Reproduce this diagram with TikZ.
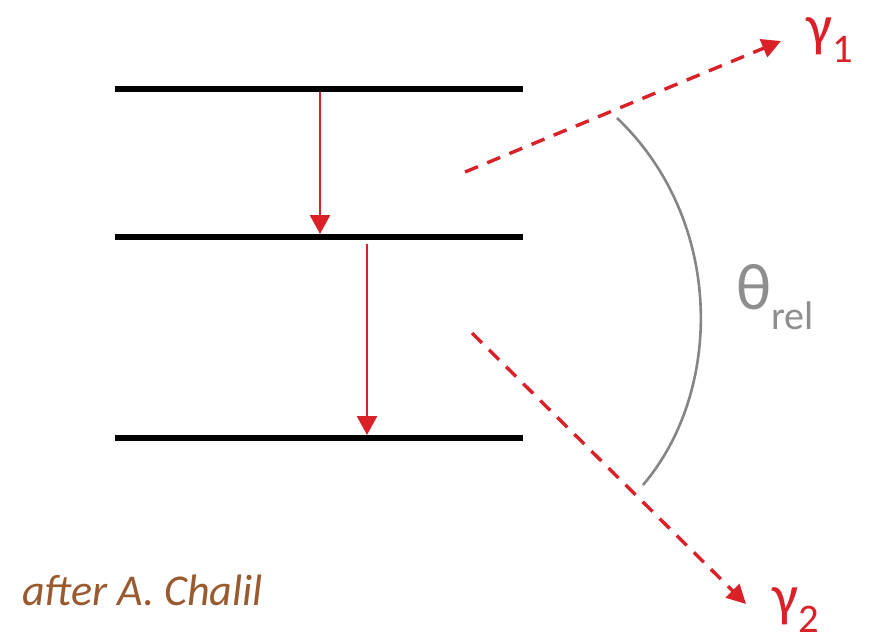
\documentclass[tikz,border=0pt]{standalone}
\usepackage{fontspec}
\setmainfont{Carlito}
\usetikzlibrary{arrows.meta}
\definecolor{gred}{HTML}{DA2128}
\definecolor{arcgray}{HTML}{858585}
\definecolor{labgray}{HTML}{8E8E8E}
\definecolor{credit}{HTML}{9A5A30}
\tikzset{
  level/.style={line width=6.5pt, draw=black},
  decay/.style={-{Triangle[length=19pt,width=20pt]}, draw=gred, line width=2.6pt},
  photon/.style={-{Triangle[length=19pt,width=19pt]}, draw=gred, line width=3.4pt, dash pattern=on 14pt off 10pt},
  glabel/.style={text=gred, font=\fontsize{58}{60}\selectfont, inner sep=0pt},
}
\begin{document}
\begin{tikzpicture}[x=1pt,y=-1pt]
\useasboundingbox (0,0) rectangle (877,643);
% levels
\coordinate (l1w) at (115,89);  \coordinate (l1e) at (523,89);
\coordinate (l2w) at (115,237); \coordinate (l2e) at (523,237);
\coordinate (l3w) at (115,438); \coordinate (l3e) at (523,438);
\draw[level] (l1w) -- (l1e);
\draw[level] (l2w) -- (l2e);
\draw[level] (l3w) -- (l3e);
% cascade
\coordinate (d1s) at (320,92);  \coordinate (d1e) at (320,234);
\coordinate (d2s) at (367,244); \coordinate (d2e) at (367,435);
\draw[decay] (d1s) -- (d1e);
\draw[decay] (d2s) -- (d2e);
% photons
\coordinate (g1s) at (465,172); \coordinate (g1e) at (781,41);
\coordinate (g2s) at (472,333); \coordinate (g2e) at (746,604);
\draw[photon] (g1s) -- (g1e);
\draw[photon] (g2s) -- (g2e);
\node[glabel, anchor=west] (g1) at (806,40) {γ\textsubscript{1}};
\node[glabel, anchor=west] (g2) at (772,610) {γ\textsubscript{2}};
% relative angle
\coordinate (a1) at (617,118); \coordinate (a2) at (643,485);
\draw[arcgray, line width=2.6pt] (a1) .. controls (724,220) and (724,390) .. (a2);
\node[text=labgray, font=\fontsize{66}{68}\selectfont, anchor=west, inner sep=0pt] (theta) at (736,297) {θ\textsubscript{\fontsize{40}{42}\selectfont rel}};
% credit
\node[text=credit, font=\fontsize{44}{46}\selectfont\itshape, anchor=base west, inner sep=0pt] (src) at (22,605) {after A. Chalil};
\end{tikzpicture}
\end{document}
